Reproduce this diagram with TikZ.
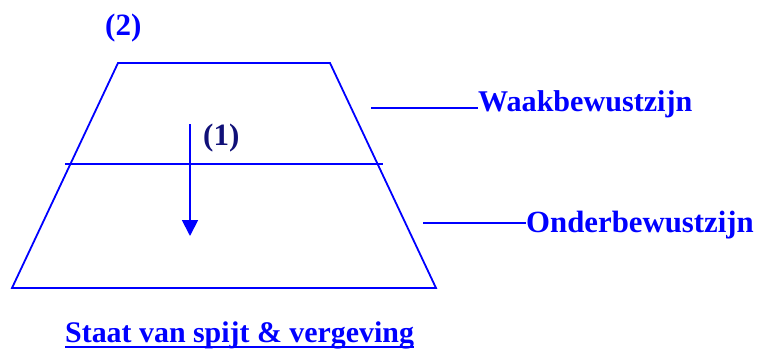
\documentclass[tikz,border=0pt]{standalone}
\usepackage{fontspec}
\setmainfont{Liberation Serif}
\usetikzlibrary{arrows.meta}
\definecolor{lineblue}{RGB}{0,0,255}
\definecolor{navyblue}{RGB}{16,16,120}
\tikzset{
  shape line/.style={draw=lineblue, line width=1.8pt},
  lbl/.style={font=\fontsize{30.8}{31}\selectfont\bfseries, text=lineblue, inner sep=0pt, anchor=base west},
  num/.style={font=\fontsize{31}{31}\selectfont\bfseries, inner sep=0pt, anchor=base west},
}
\begin{document}
\begin{tikzpicture}[x=1pt,y=-1pt]
\useasboundingbox (0,0) rectangle (759,349);
% trapezoid
\coordinate (tl) at (118,63);
\coordinate (tr) at (330,63);
\coordinate (br) at (436,288);
\coordinate (bl) at (12,288);
\draw[shape line] (tl) -- (tr) -- (br) -- (bl) -- cycle;
% divider
\coordinate (dl) at (65,164);
\coordinate (dr) at (383,164);
\draw[shape line] (dl) -- (dr);
% arrow
\coordinate (as) at (190,124);
\coordinate (ae) at (190,236);
\draw[shape line, -{Triangle[length=16pt,width=16pt]}] (as) -- (ae);
% numbers
\node[num, text=navyblue] (n1) at (203,145) {(1)};
\node[num, text=lineblue] (n2) at (105,35) {(2)};
% labels
\node[lbl, font=\fontsize{30.1}{31}\selectfont\bfseries] (wk) at (478,111) {Waakbewustzijn};
\coordinate (wks) at (371,108);
\draw[shape line] (wks) -- (wk.base west |- wks);
\node[lbl] (ob) at (526,232) {Onderbewustzijn};
\coordinate (obs) at (423,223);
\draw[shape line] (obs) -- (ob.base west |- obs);
% title
\node[lbl, font=\fontsize{29.9}{31}\selectfont\bfseries] (title) at (65,342) {Staat van spijt \& vergeving};
\coordinate (ul1) at (65,347);
\coordinate (ul2) at (415,347);
\draw[draw=lineblue, line width=2.4pt] (title.base west |- ul1) -- (title.base east |- ul2);
\end{tikzpicture}
\end{document}
